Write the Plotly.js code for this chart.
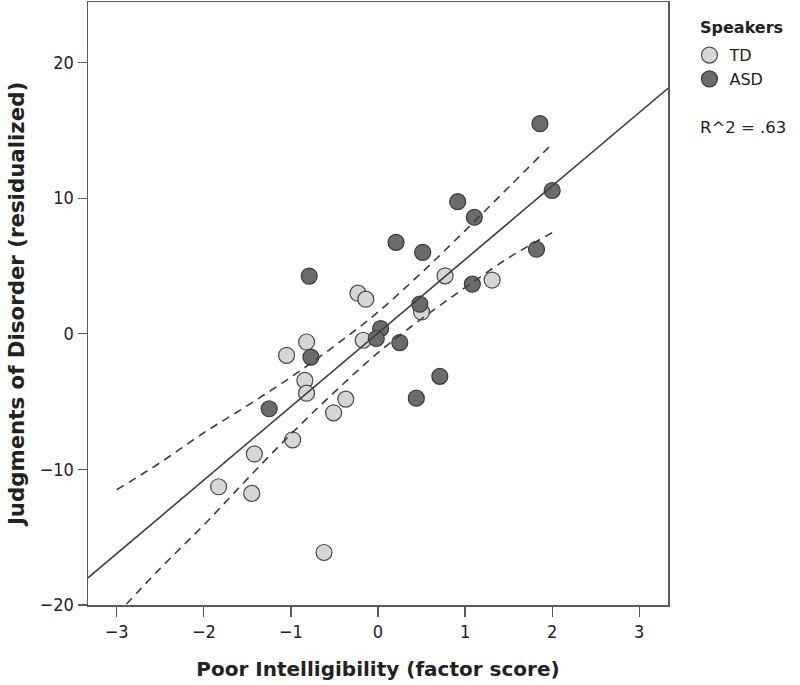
<!DOCTYPE html>
<html>
<head>
<meta charset="utf-8">
<script src="https://cdn.plot.ly/plotly-3.0.1.min.js"></script>
<style>
  html, body { margin: 0; padding: 0; background: #ffffff; }
  #chart { width: 800px; height: 685px; }
</style>
</head>
<body>
<div id="chart"></div>
<script>
// ---- Data ----
const tdX = [-0.23, -0.14, -0.82, -1.05, -0.84, -0.82, -0.17, -0.37, -0.51, -0.98, -1.42, -1.83, -1.45, -0.62, 0.77, 1.31, 0.50];
const tdY = [2.99, 2.55, -0.61, -1.59, -3.44, -4.38, -0.48, -4.82, -5.83, -7.82, -8.86, -11.28, -11.77, -16.13, 4.27, 3.96, 1.61];

const asdX = [-0.79, -0.77, -1.25, 1.86, 2.00, 0.915, 1.106, 0.207, 0.513, 1.82, 1.083, 0.48, 0.03, -0.02, 0.25, 0.71, 0.44];
const asdY = [4.25, -1.72, -5.53, 15.49, 10.56, 9.74, 8.59, 6.74, 6.00, 6.23, 3.66, 2.18, 0.38, -0.35, -0.65, -3.14, -4.75];

// regression (fit) line end values
const fitX = [-3.33, 3.33];
const fitY = [-18.0, 18.1];

// confidence band (dashed curves)
const bandX     = [-3.0, -2.5, -2.0, -1.5, -1.0, -0.5, 0.0, 0.5, 1.0, 1.5, 2.0];
const bandUpper = [-11.5, -9.5, -7.3, -5.3, -3.2, -0.9, 1.6, 4.5, 7.6, 10.8, 14.0];
const bandLower = [-20.7, -17.3, -14.1, -10.7, -7.4, -4.3, -1.4, 1.1, 3.4, 5.6, 7.45];

const xTicks = [-3, -2, -1, 0, 1, 2, 3];
const yTicks = [-20, -10, 0, 10, 20];

const groupNames = ['TD', 'ASD'];
const legendTitle = 'Speakers';
const r2Label = 'R^2 = .63';
const xTitle = 'Poor Intelligibility (factor score)';
const yTitle = 'Judgments of Disorder (residualized)';

// ---- Styles ----
const FONT = 'DejaVu Sans, sans-serif';
const TICKFONT = 'Liberation Sans Narrow, DejaVu Sans Condensed, sans-serif';
const AXCOL = '#5a5a5a';
const fmt = v => v < 0 ? '\u2212' + Math.abs(v) : String(v);

const traces = [
  {
    type: 'scatter', mode: 'markers', name: groupNames[0],
    x: tdX, y: tdY,
    marker: { size: 16, color: '#d6d6d6', line: { color: '#4a4a4a', width: 1.2 } }
  },
  {
    type: 'scatter', mode: 'markers', name: groupNames[1],
    x: asdX, y: asdY,
    marker: { size: 16, color: '#6b6b6b', line: { color: '#3a3a3a', width: 1.2 } }
  },
  {
    type: 'scatter', mode: 'lines', x: fitX, y: fitY, showlegend: false, hoverinfo: 'skip',
    line: { color: '#3c3c3c', width: 1.6 }
  },
  {
    type: 'scatter', mode: 'lines', x: bandX, y: bandUpper, showlegend: false, hoverinfo: 'skip',
    line: { color: '#3c3c3c', width: 1.6, dash: '8px,6px', shape: 'spline' }
  },
  {
    type: 'scatter', mode: 'lines', x: bandX, y: bandLower, showlegend: false, hoverinfo: 'skip',
    line: { color: '#3c3c3c', width: 1.6, dash: '8px,6px', shape: 'spline' }
  }
];

const layout = {
  width: 800, height: 685,
  margin: { l: 88, r: 132, t: 2, b: 80, pad: 0 },
  paper_bgcolor: '#ffffff', plot_bgcolor: '#ffffff',
  font: { family: FONT, size: 16, color: '#222222' },
  showlegend: true,
  xaxis: {
    range: [-3.33, 3.33], tickvals: xTicks, ticktext: xTicks.map(fmt),
    showgrid: false, zeroline: false,
    showline: true, mirror: true, linecolor: AXCOL, linewidth: 1.5,
    ticks: 'outside', ticklen: 10, tickwidth: 1.2, tickcolor: AXCOL,
    tickfont: { family: TICKFONT, size: 18, color: '#222' },
    title: { text: '<b>' + xTitle + '</b>', font: { family: FONT, size: 20, color: '#222' }, standoff: 21 },
    automargin: false
  },
  yaxis: {
    range: [-20, 24.46], tickvals: yTicks, ticktext: yTicks.map(fmt),
    showgrid: false, zeroline: false,
    showline: true, mirror: true, linecolor: AXCOL, linewidth: 1.5,
    ticks: 'outside', ticklen: 9, tickwidth: 1.2, tickcolor: AXCOL,
    tickfont: { family: TICKFONT, size: 18, color: '#222' },
    title: { text: '<b>' + yTitle + '</b>', font: { family: FONT, size: 21.3, color: '#222' }, standoff: 9 },
    automargin: false
  },
  legend: {
    x: 1.037, xanchor: 'left', y: 0.94, yanchor: 'top',
    font: { family: FONT, size: 16, color: '#222' },
    bgcolor: 'rgba(0,0,0,0)', borderwidth: 0, tracegroupgap: 0, itemsizing: 'trace'
  },
  annotations: [
    { xref: 'paper', yref: 'paper', x: 1.052, y: 1 - (27 - 2) / 603, xanchor: 'left', yanchor: 'middle',
      text: '<b>' + legendTitle + '</b>', showarrow: false, font: { family: FONT, size: 16, color: '#222' } },
    { xref: 'paper', yref: 'paper', x: 1.052, y: 1 - (128 - 2) / 603, xanchor: 'left', yanchor: 'middle',
      text: r2Label, showarrow: false, font: { family: FONT, size: 16.5, color: '#222' } }
  ]
};

Plotly.newPlot('chart', traces, layout, { displayModeBar: false, staticPlot: true });
</script>
</body>
</html>
